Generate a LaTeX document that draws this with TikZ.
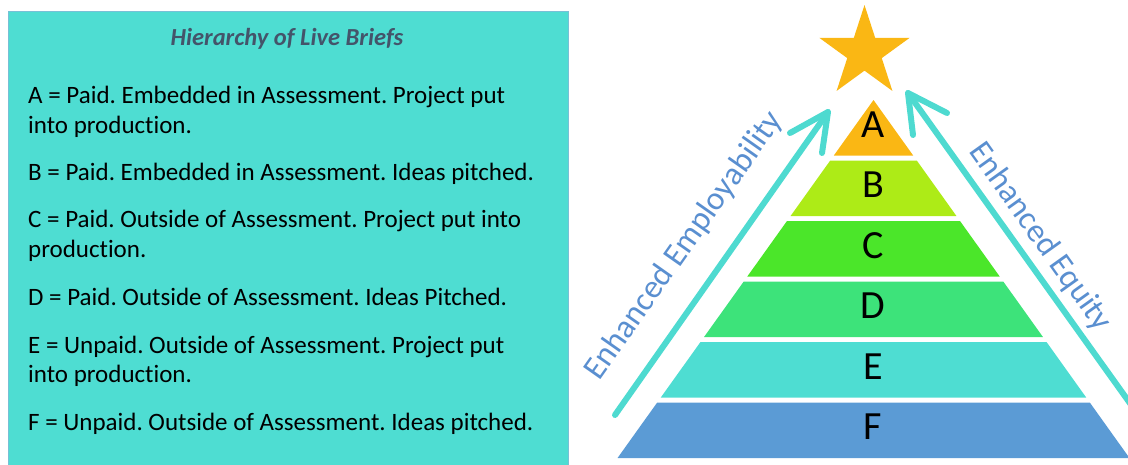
\documentclass[tikz,border=0pt]{standalone}
\usepackage{fontspec}
\setmainfont{Carlito}[Ligatures=NoCommon]
\usetikzlibrary{calc,shapes.geometric}

\definecolor{boxcyan}{RGB}{78,221,210}
\definecolor{boxedge}{RGB}{120,192,214}
\definecolor{titlecol}{RGB}{68,84,106}
\definecolor{tierA}{RGB}{250,183,20}
\definecolor{tierB}{RGB}{173,235,23}
\definecolor{tierC}{RGB}{75,230,42}
\definecolor{tierD}{RGB}{61,227,122}
\definecolor{tierE}{RGB}{78,221,210}
\definecolor{tierF}{RGB}{91,155,213}
\definecolor{arrowcyan}{RGB}{78,218,208}
\definecolor{labelblue}{RGB}{90,143,208}

\tikzset{
  bodyline/.style={anchor=base west, inner sep=0pt, font=\fontsize{25}{30}\selectfont},
  titletext/.style={anchor=base, inner sep=0pt, text=titlecol,
    font=\fontsize{24.5}{30}\selectfont\bfseries\itshape},
  tierletter/.style={anchor=base, inner sep=0pt, font=\fontsize{40}{48}\selectfont},
  risearrow/.style={draw=arrowcyan, line width=6pt, line cap=round, line join=round},
  risetext/.style={inner sep=0pt, text=labelblue, font=\fontsize{33}{40}\selectfont},
}

\begin{document}
\frenchspacing
\begin{tikzpicture}[x=1pt,y=-1pt]
\useasboundingbox (0,0) rectangle (1128,464);
\clip (0,0) rectangle (1128,464);

% legend panel
\path[fill=boxcyan, draw=boxedge, line width=1pt] (8,11) rectangle (568,470);
\node[titletext] (title) at (287,45) {Hierarchy of Live Briefs};
\node[bodyline] (a1) at (28,103) {A = Paid. Embedded in Assessment. Project put};
\node[bodyline] (a2) at (28,133) {into production.};
\node[bodyline] (b1) at (28,180) {B = Paid. Embedded in Assessment. Ideas pitched.};
\node[bodyline] (c1) at (28,227) {C = Paid. Outside of Assessment. Project put into};
\node[bodyline] (c2) at (28,257) {production.};
\node[bodyline] (d1) at (28,305) {D = Paid. Outside of Assessment. Ideas Pitched.};
\node[bodyline] (e1) at (28,353) {E = Unpaid. Outside of Assessment. Project put};
\node[bodyline] (e2) at (28,382) {into production.};
\node[bodyline] (f1) at (28,430) {F = Unpaid. Outside of Assessment. Ideas pitched.};

% pyramid tiers: apex at (873.5,100), half-width grows 0.715 per unit of depth
\foreach \lab/\yt/\yb/\col in {A/100/155.5/tierA, B/160.5/216/tierB, C/221/276.5/tierC,
                               D/281.5/337/tierD, E/342/397.5/tierE, F/402.5/458/tierF}{
  \pgfmathsetmacro{\wt}{0.715*(\yt-100)}
  \pgfmathsetmacro{\wb}{0.715*(\yb-100)}
  \pgfmathsetmacro{\yl}{(\yt+\yb)/2+9.5}
  \fill[\col] (873.5-\wt,\yt) -- (873.5+\wt,\yt) -- (873.5+\wb,\yb) -- (873.5-\wb,\yb) -- cycle;
  \node[tierletter] (tier\lab) at (873,\yl) {\lab};
}

% star on top
\node[star, star points=5, star point ratio=2.618, minimum size=95pt, inner sep=0pt,
      fill=tierA] (topstar) at (864.5,52.5) {};

% left rising arrow
\coordinate (lTail) at (615,415);
\coordinate (lTip) at (828,112);
\coordinate (lArmA) at (790,133);
\coordinate (lArmB) at (822,153);
\draw[risearrow] (lTail) -- (lTip);
\draw[risearrow] (lArmA) -- (lTip) -- (lArmB);
\node[risetext, rotate=54.9] (employ) at (684,246) {Enhanced Employability};

% right rising arrow
\coordinate (rTail) at (1152,434);
\coordinate (rTip) at (908,93);
\coordinate (rArmA) at (947,113);
\coordinate (rArmB) at (913,135);
\draw[risearrow] (rTail) -- (rTip);
\draw[risearrow] (rArmA) -- (rTip) -- (rArmB);
\node[risetext, rotate=-54.5] (equity) at (1040,237) {Enhanced Equity};
\end{tikzpicture}
\end{document}
